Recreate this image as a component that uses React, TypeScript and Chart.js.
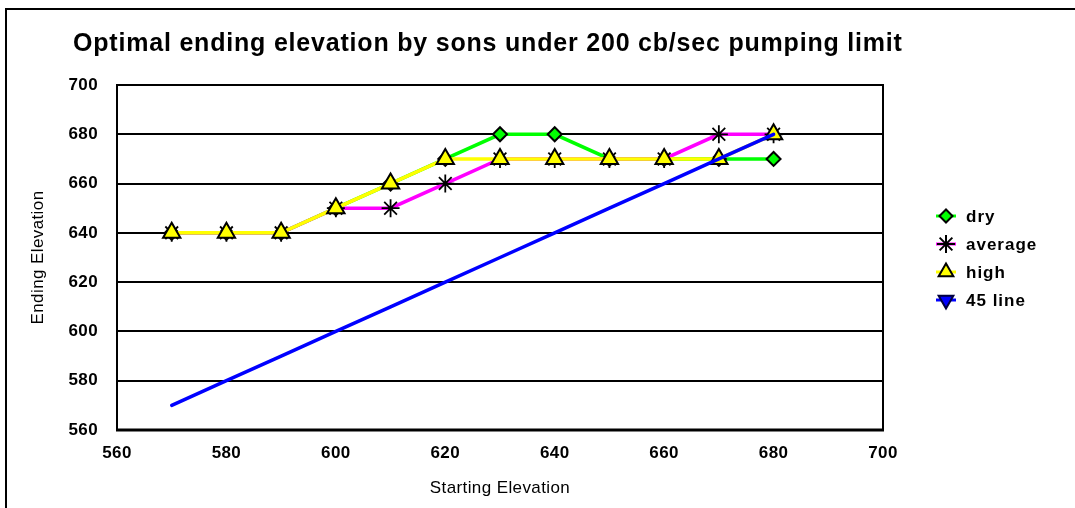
import React, { useEffect, useRef } from 'react';
import { Chart, registerables } from 'chart.js';

Chart.register(...registerables);

const titleText = 'Optimal ending elevation by sons under 200 cb/sec pumping limit';
const xAxisTitle = 'Starting Elevation';
const yAxisTitle = 'Ending Elevation';

const startingElevation = [570, 580, 590, 600, 610, 620, 630, 640, 650, 660, 670, 680];
const dry = [640, 640, 640, 650, 660, 670, 680, 680, 670, 670, 670, 670];
const average = [640, 640, 640, 650, 650, 660, 670, 670, 670, 670, 680, 680];
const high = [640, 640, 640, 650, 660, 670, 670, 670, 670, 670, 670, 680];
const line45 = [570, 580, 590, 600, 610, 620, 630, 640, 650, 660, 670, 680];

const seriesNames = ['dry', 'average', 'high', '45 line'];
const seriesColors = ['#00ff00', '#ff00ff', '#ffff00', '#0000ff'];
const seriesMarkers = ['diamond', 'star', 'triangle', 'triangleDown'];

const xMin = 560;
const xMax = 700;
const yMin = 560;
const yMax = 700;
const tickStep = 20;

const FONT = "'Liberation Sans', Arial, Helvetica, sans-serif";

function toPoints(values: number[]) {
  return startingElevation.map((x, i) => ({ x, y: values[i] }));
}

function drawMarker(ctx: CanvasRenderingContext2D, kind: string, x: number, y: number, fill: string) {
  ctx.save();
  ctx.lineWidth = 2;
  ctx.strokeStyle = '#000';
  ctx.fillStyle = fill;
  ctx.beginPath();
  if (kind === 'diamond') {
    const r = 6.5;
    ctx.moveTo(x - r, y);
    ctx.lineTo(x, y - r);
    ctx.lineTo(x + r, y);
    ctx.lineTo(x, y + r);
    ctx.closePath();
    ctx.fill();
    ctx.stroke();
  } else if (kind === 'star') {
    const r = 9;
    for (let k = 0; k < 4; k++) {
      const a = (k * Math.PI) / 4;
      ctx.moveTo(x - Math.cos(a) * r, y - Math.sin(a) * r);
      ctx.lineTo(x + Math.cos(a) * r, y + Math.sin(a) * r);
    }
    ctx.stroke();
  } else if (kind === 'triangle' || kind === 'triangleDown') {
    const r = 8.5;
    const s = kind === 'triangle' ? 1 : -1;
    ctx.moveTo(x, y - s * r);
    ctx.lineTo(x + r * 0.866, y + s * r * 0.5);
    ctx.lineTo(x - r * 0.866, y + s * r * 0.5);
    ctx.closePath();
    ctx.fill();
    if (kind === 'triangleDown') ctx.strokeStyle = '#000040';
    ctx.stroke();
  }
  ctx.restore();
}

const decorPlugin = {
  id: 'decor',
  beforeDraw(chart: any) {
    const ctx = chart.ctx as any;
    ctx.letterSpacing = '0.4px';
  },
  beforeDatasetsDraw(chart: any) {
    const { ctx, chartArea } = chart;
    const { left, right, top, bottom } = chartArea;
    ctx.save();
    ctx.strokeStyle = '#000';
    ctx.lineWidth = 2;
    ctx.beginPath();
    ctx.moveTo(left, bottom);
    ctx.lineTo(left, top);
    ctx.lineTo(right, top);
    ctx.lineTo(right, bottom);
    ctx.stroke();
    ctx.lineWidth = 3;
    ctx.beginPath();
    ctx.moveTo(left - 1, bottom);
    ctx.lineTo(right + 1, bottom);
    ctx.stroke();
    ctx.restore();
  },
  afterDraw(chart: any) {
    const ctx = chart.ctx as any;
    ctx.save();
    // outer frame
    ctx.strokeStyle = '#000';
    ctx.lineWidth = 2;
    ctx.beginPath();
    ctx.moveTo(6, chart.height);
    ctx.lineTo(6, 9);
    ctx.lineTo(chart.width, 9);
    ctx.stroke();

    // title
    ctx.fillStyle = '#000';
    ctx.font = `bold 25px ${FONT}`;
    ctx.letterSpacing = '0.8px';
    ctx.textAlign = 'left';
    ctx.textBaseline = 'alphabetic';
    ctx.fillText(titleText, 73, 51);

    // legend
    ctx.font = `bold 17px ${FONT}`;
    ctx.letterSpacing = '1px';
    ctx.textBaseline = 'middle';
    seriesNames.forEach((name, i) => {
      const y = 216 + i * 28;
      ctx.strokeStyle = seriesColors[i];
      ctx.lineWidth = 3;
      ctx.beginPath();
      ctx.moveTo(936, y);
      ctx.lineTo(956, y);
      ctx.stroke();
      drawMarker(ctx, seriesMarkers[i], 946, y, seriesColors[i]);
      ctx.fillStyle = '#000';
      ctx.fillText(name, 966, y + 1);
    });
    ctx.restore();
  },
};

export default function App() {
  const canvasRef = useRef<HTMLCanvasElement | null>(null);

  useEffect(() => {
    const canvas = canvasRef.current;
    if (!canvas) return;

    const common = {
      borderWidth: 3.5,
      fill: false,
      tension: 0,
      pointBorderColor: '#000',
      pointBorderWidth: 2,
    };

    const chart = new Chart(canvas, {
      type: 'line',
      data: {
        datasets: [
          {
            ...common,
            label: seriesNames[0],
            data: toPoints(dry),
            borderColor: seriesColors[0],
            backgroundColor: seriesColors[0],
            pointStyle: 'rectRot',
            pointRadius: 7,
            order: 3,
          },
          {
            ...common,
            label: seriesNames[1],
            data: toPoints(average),
            borderColor: seriesColors[1],
            backgroundColor: seriesColors[1],
            pointStyle: 'star',
            pointRadius: 9,
            pointBorderWidth: 1.8,
            order: 2,
          },
          {
            ...common,
            label: seriesNames[2],
            data: toPoints(high),
            borderColor: seriesColors[2],
            backgroundColor: seriesColors[2],
            pointStyle: 'triangle',
            pointRadius: 10,
            order: 1,
          },
          {
            ...common,
            label: seriesNames[3],
            data: toPoints(line45),
            borderColor: seriesColors[3],
            backgroundColor: seriesColors[3],
            pointRadius: 0,
            borderCapStyle: 'round',
            order: 0,
          },
        ],
      },
      options: {
        responsive: false,
        animation: false,
        events: [],
        layout: { padding: { left: 6, top: 85, right: 192, bottom: 0 } },
        plugins: {
          legend: { display: false },
          title: { display: false },
          tooltip: { enabled: false },
        },
        scales: {
          x: {
            type: 'linear',
            min: xMin,
            max: xMax,
            ticks: {
              stepSize: tickStep,
              color: '#000',
              padding: 13,
              maxRotation: 0,
              font: { family: FONT, size: 17, weight: 'bold' },
            },
            grid: { display: false, drawTicks: false },
            border: { display: false },
            title: {
              display: true,
              text: xAxisTitle,
              color: '#000',
              font: { family: FONT, size: 17, weight: 'normal' },
              padding: { top: 0, bottom: 9 },
            },
            afterFit(scale: any) {
              scale.height = 78;
            },
          },
          y: {
            type: 'linear',
            min: yMin,
            max: yMax,
            ticks: {
              stepSize: tickStep,
              color: '#000',
              padding: 19,
              font: { family: FONT, size: 17, weight: 'bold' },
            },
            grid: { color: '#000', lineWidth: 2, drawTicks: false },
            border: { display: false },
            title: {
              display: true,
              text: yAxisTitle,
              color: '#000',
              font: { family: FONT, size: 17, weight: 'normal' },
              padding: { top: 22, bottom: 0 },
            },
            afterFit(scale: any) {
              scale.width = 111;
            },
          },
        },
      },
      plugins: [decorPlugin],
    } as any);

    return () => {
      chart.destroy();
    };
  }, []);

  return (
    <div style={{ position: 'absolute', left: 0, top: 0, width: 1075, height: 508, background: '#fff' }}>
      <canvas ref={canvasRef} width={1075} height={508} style={{ display: 'block' }} />
    </div>
  );
}
